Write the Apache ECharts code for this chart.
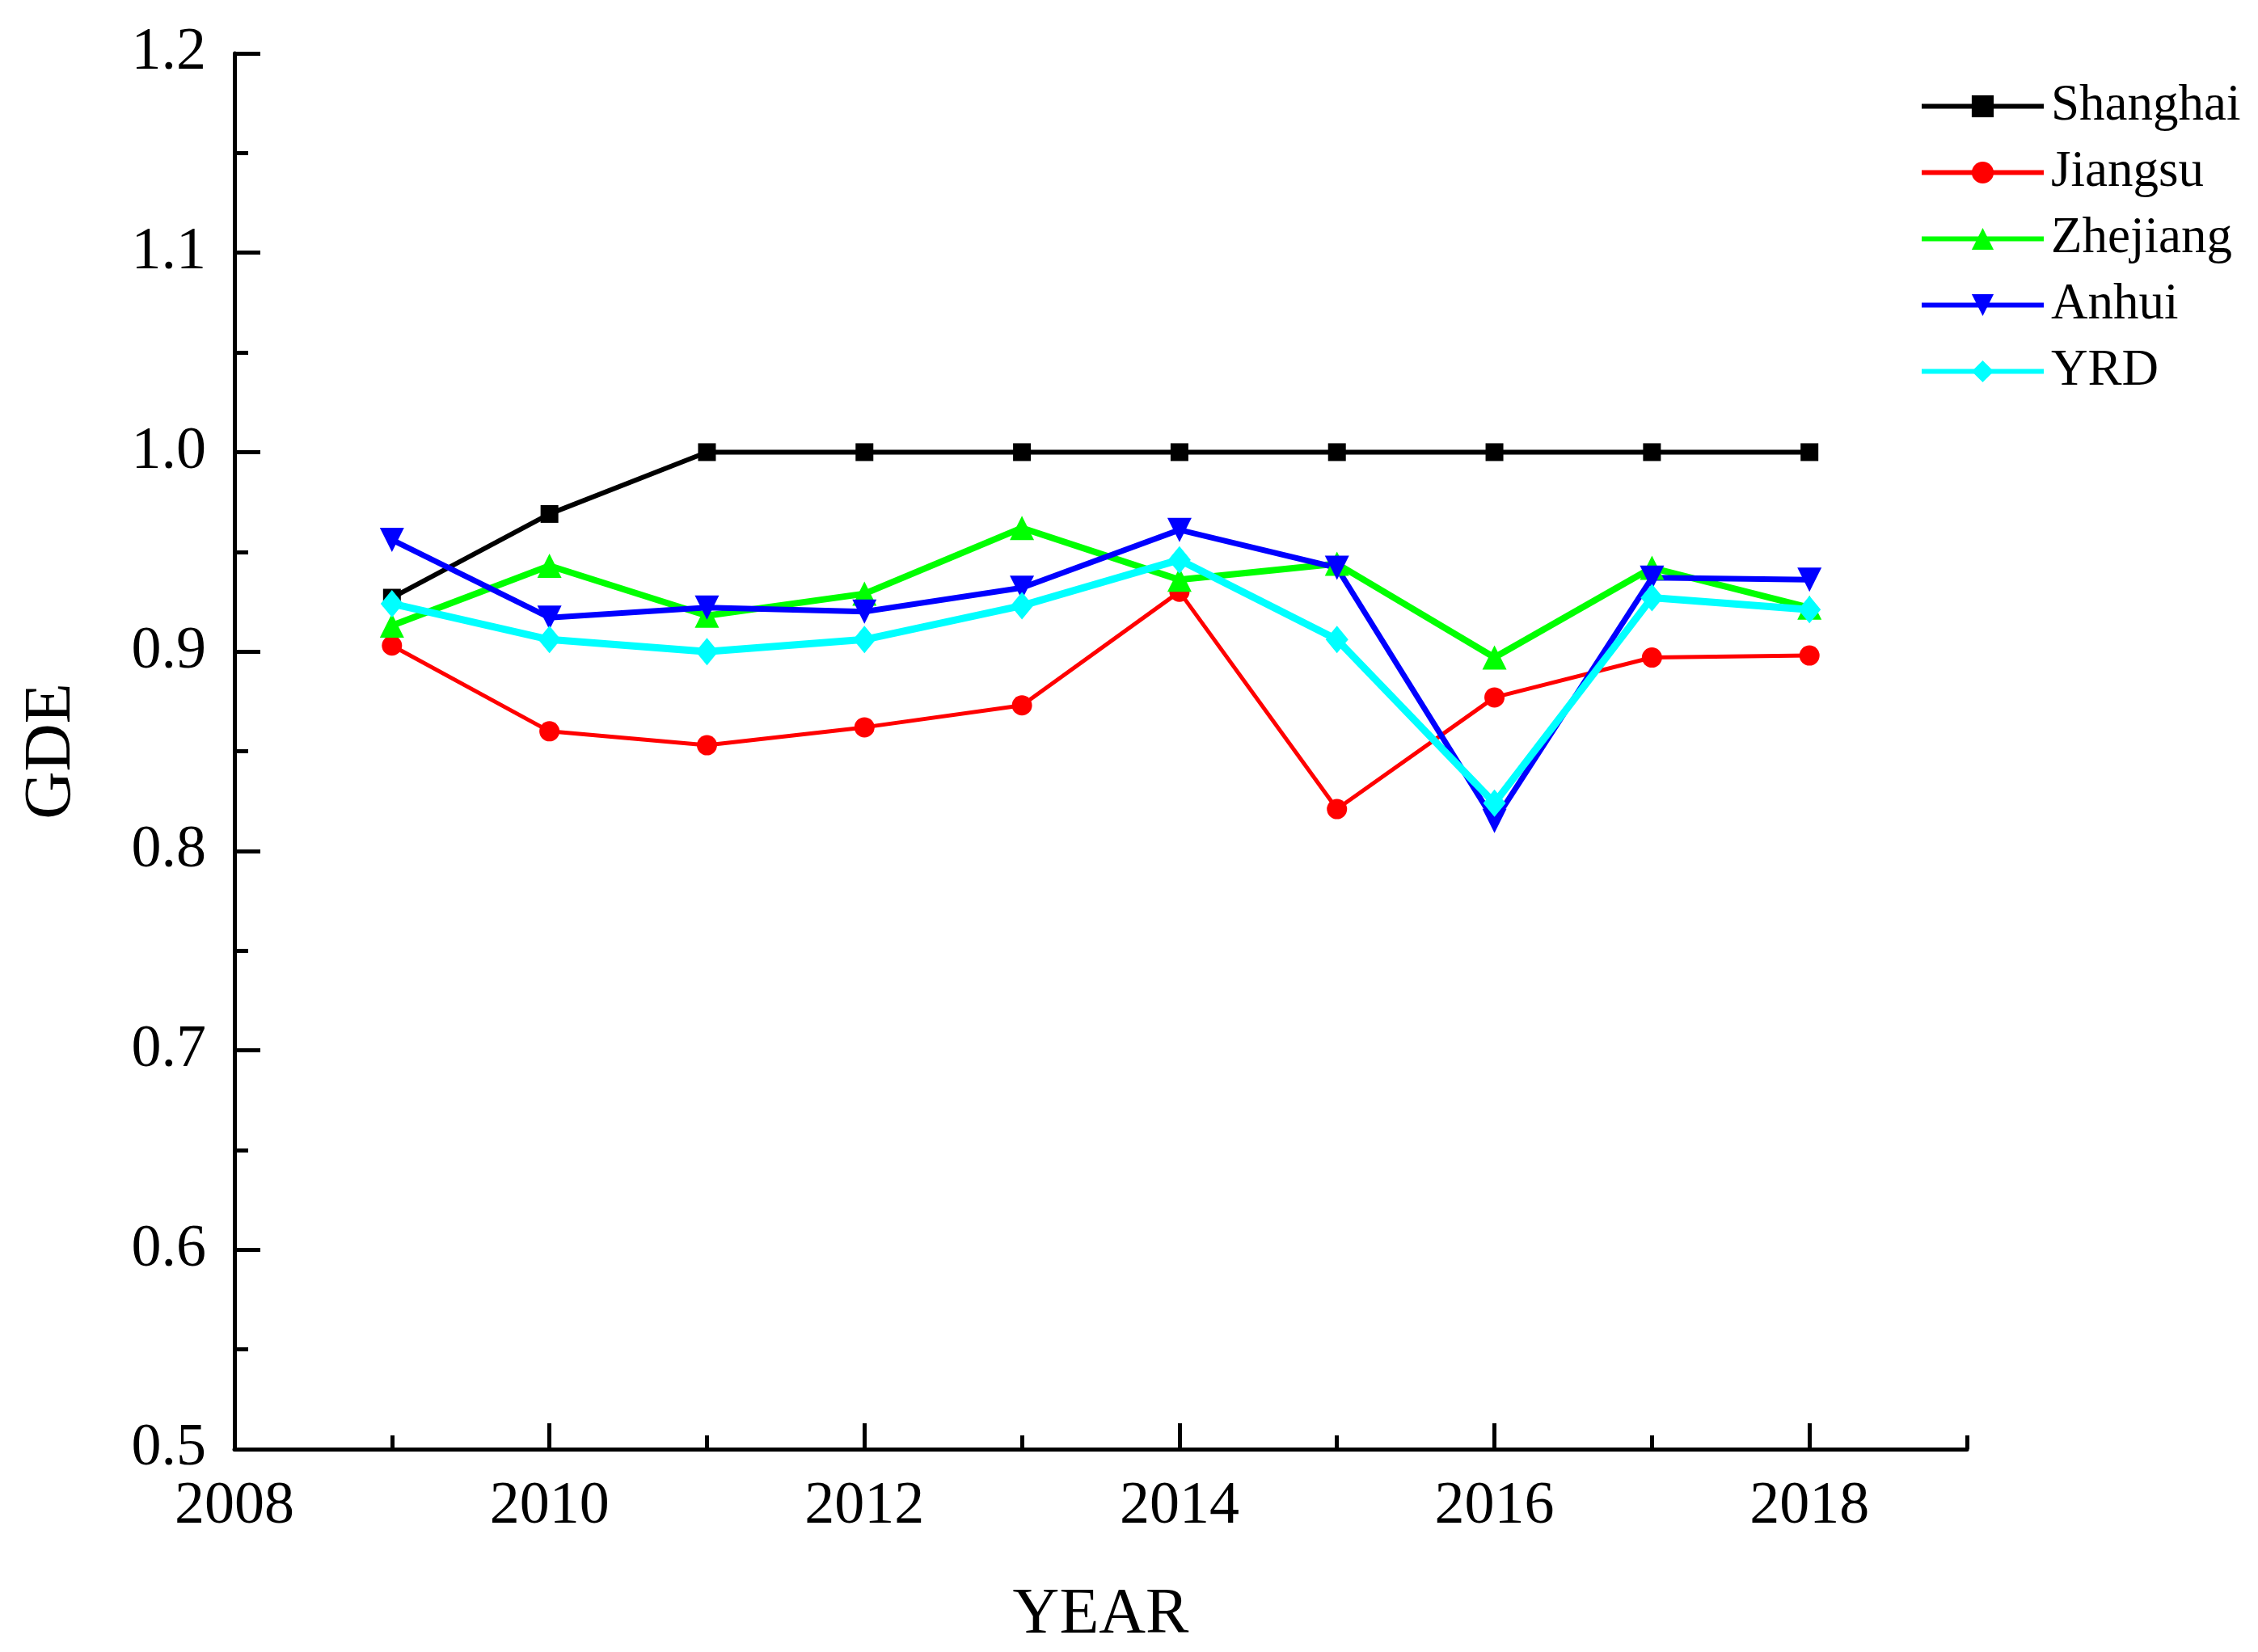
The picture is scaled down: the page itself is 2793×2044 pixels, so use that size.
<!DOCTYPE html>
<html>
<head>
<meta charset="utf-8">
<script src="https://cdn.jsdelivr.net/npm/echarts@6/dist/echarts.min.js"></script>
<style>html,body{margin:0;padding:0;background:#fff}#c{width:2793px;height:2044px}</style>
</head>
<body>
<div id="c"></div>
<script>
const years = [2009, 2010, 2011, 2012, 2013, 2014, 2015, 2016, 2017, 2018];
const shanghai = [0.927, 0.969, 1.000, 1.000, 1.000, 1.000, 1.000, 1.000, 1.000, 1.000];
const jiangsu  = [0.903, 0.860, 0.853, 0.862, 0.873, 0.930, 0.821, 0.877, 0.897, 0.898];
const zhejiang = [0.913, 0.943, 0.918, 0.929, 0.962, 0.936, 0.944, 0.897, 0.942, 0.922];
const anhui    = [0.956, 0.917, 0.922, 0.920, 0.932, 0.961, 0.942, 0.815, 0.937, 0.936];
const yrd      = [0.924, 0.906, 0.900, 0.906, 0.923, 0.946, 0.906, 0.824, 0.927, 0.921];
const seriesNames = ['Shanghai', 'Jiangsu', 'Zhejiang', 'Anhui', 'YRD'];
const xMajorTicks = [2008, 2010, 2012, 2014, 2016, 2018];
const xMinorTicks = [2009, 2011, 2013, 2015, 2017, 2019];

const FONT = '"Liberation Serif", "Times New Roman", serif';
const pairs = arr => years.map((y, i) => [y, arr[i]]);

const chart = echarts.init(document.getElementById('c'), null, {renderer: 'canvas'});
const mk = (name, data, color, symbol, size, width, rotate) => ({
  name, type: 'line', data: pairs(data), xAxisIndex: 0,
  symbol, symbolSize: size, symbolRotate: rotate || 0, showSymbol: true,
  lineStyle: {color, width},
  itemStyle: {color, borderWidth: 0},
  emphasis: {disabled: true}
});

chart.setOption({
  animation: false,
  backgroundColor: '#fff',
  grid: {left: 290, right: 360, top: 66, bottom: 251, containLabel: false},
  legend: {
    orient: 'vertical', left: 2369, top: 95,
    itemWidth: 151, itemHeight: 34, itemGap: 19,
    data: seriesNames.map(n => ({name: n, lineStyle: {width: 6}})),
    lineStyle: {width: 6},
    textStyle: {fontFamily: FONT, fontSize: 63, color: '#000', padding: [0, 0, 0, 4]}
  },
  xAxis: [{
    type: 'value', min: 2008, max: 2019, interval: 2,
    name: 'YEAR', nameLocation: 'middle', nameGap: 166,
    nameTextStyle: {fontFamily: FONT, fontSize: 80, color: '#000'},
    axisLine: {show: true, lineStyle: {color: '#000', width: 5}},
    axisTick: {show: true, inside: true, length: 32, lineStyle: {color: '#000', width: 5}, customValues: xMajorTicks},
    axisLabel: {fontFamily: FONT, fontSize: 74, color: '#000', margin: 35, customValues: xMajorTicks, formatter: v => String(v)},
    splitLine: {show: false}
  }, {
    type: 'value', min: 2008, max: 2019, position: 'bottom',
    axisLine: {show: false},
    axisTick: {show: true, inside: true, length: 17, lineStyle: {color: '#000', width: 5}, customValues: xMinorTicks},
    axisLabel: {show: false},
    splitLine: {show: false}
  }],
  yAxis: {
    type: 'value', min: 0.5, max: 1.2, interval: 0.1,
    name: 'GDE', nameLocation: 'middle', nameGap: 185, nameRotate: 90,
    nameTextStyle: {fontFamily: FONT, fontSize: 82, color: '#000'},
    axisLine: {show: true, lineStyle: {color: '#000', width: 5}},
    axisTick: {show: true, inside: true, length: 32, lineStyle: {color: '#000', width: 5}},
    minorTick: {show: true, splitNumber: 2, length: 17, lineStyle: {color: '#000', width: 5}},
    axisLabel: {fontFamily: FONT, fontSize: 74, color: '#000', margin: 35, formatter: v => v.toFixed(1)},
    splitLine: {show: false}
  },
  series: [
    mk('Shanghai', shanghai, '#000000', 'rect', 22, 6),
    mk('Jiangsu', jiangsu, '#ff0000', 'circle', 25, 5),
    mk('Zhejiang', zhejiang, '#00ff00', 'triangle', 30, 8),
    mk('Anhui', anhui, '#0000ff', 'triangle', 30, 7, 180),
    mk('YRD', yrd, '#00ffff', 'diamond', [28, 34], 9)
  ]
});
</script>
</body>
</html>
